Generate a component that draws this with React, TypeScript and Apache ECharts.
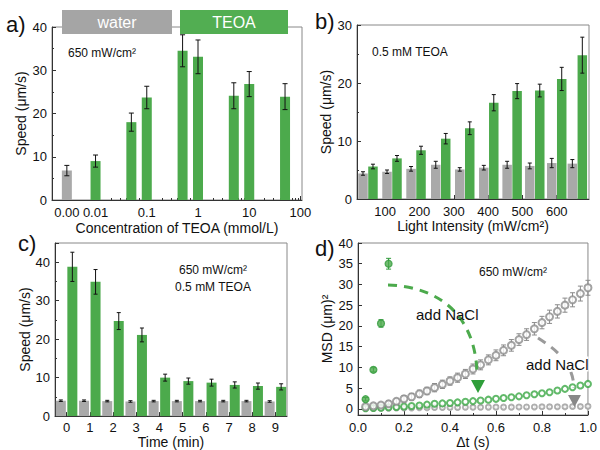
import React, { useEffect, useRef } from 'react';
import * as echarts from 'echarts';

const FONT = '"Liberation Sans", Arial, Helvetica, sans-serif';
const GREEN = '#4caa4c';
const DGREEN = '#2f9a3a';
const GREY = '#a9a9a9';
const DGREY = '#8c8c8c';
const AXC = '#333';

// ---- panel a ----
const aConcentration = [0, 0.01, 0.05, 0.1, 0.5, 1, 5, 10, 50];
const aSpeed = [6.8, 9.0, 18.0, 23.7, 34.5, 33.1, 24.1, 26.8, 23.9];
const aError = [1.2, 1.4, 2.1, 2.6, 3.7, 3.9, 3.0, 2.9, 3.0];
const aTickLabels = ['0.00', '0.01', '0.1', '1', '10', '100'];
const aTickConc = [0, 0.01, 0.1, 1, 10, 100];

// ---- panel b ----
const bIntensity = [50, 120, 190, 262, 332, 402, 470, 536, 600, 660];
const bWaterSpeed = [4.4, 4.7, 5.2, 5.9, 5.1, 5.4, 5.9, 5.7, 6.2, 6.1];
const bWaterError = [0.3, 0.3, 0.4, 0.6, 0.3, 0.4, 0.6, 0.5, 0.8, 0.7];
const bTeoaSpeed = [5.6, 7.0, 8.4, 10.4, 12.2, 16.6, 18.6, 18.7, 20.7, 24.8];
const bTeoaError = [0.4, 0.5, 0.7, 0.9, 1.1, 1.4, 1.3, 1.1, 2.0, 3.1];
const bTickLabels = [100, 200, 300, 400, 500, 600];

// ---- panel c ----
const cTime = ['0', '1', '2', '3', '4', '5', '6', '7', '8', '9'];
const cWaterSpeed = [4.0, 4.0, 3.9, 3.8, 3.9, 3.9, 3.9, 3.9, 3.9, 3.8];
const cWaterError = [0.2, 0.2, 0.2, 0.2, 0.2, 0.2, 0.2, 0.2, 0.2, 0.2];
const cTeoaSpeed = [38.8, 34.9, 24.7, 21.1, 10.0, 9.1, 8.7, 8.1, 7.8, 7.6];
const cTeoaError = [3.8, 3.2, 2.2, 1.8, 0.9, 0.8, 0.9, 0.8, 0.8, 0.8];

// ---- panel d ----
const dLag = [0.033, 0.067, 0.1, 0.133, 0.167, 0.2, 0.233, 0.267, 0.3, 0.333, 0.367, 0.4, 0.433, 0.467, 0.5,
  0.533, 0.567, 0.6, 0.633, 0.667, 0.7, 0.733, 0.767, 0.8, 0.833, 0.867, 0.9, 0.933, 0.967, 1.0];
const dTeoaMsd = [2.3, 9.4, 20.6, 35.0];
const dTeoaErr = [0.4, 0.5, 0.9, 1.3];
const dWaterMsd = [0.5, 0.7, 0.9, 1.2, 1.8, 2.4, 2.9, 3.6, 4.3, 5.1, 5.9, 6.7, 7.5, 8.4, 9.6,
  10.6, 11.8, 12.9, 14.1, 15.3, 16.7, 17.9, 19.3, 20.8, 22.2, 23.5, 25.0, 26.3, 27.8, 29.2];
const dWaterErr = [0.5, 0.6, 0.6, 0.7, 0.7, 0.8, 0.8, 0.9, 0.9, 1.0, 1.0, 1.0, 1.1, 1.1, 1.2,
  1.2, 1.2, 1.3, 1.3, 1.4, 1.4, 1.4, 1.5, 1.5, 1.6, 1.6, 1.7, 1.7, 1.8, 1.8];
const dTeoaNaclMsd = [0.15, 0.2, 0.25, 0.35, 0.45, 0.55, 0.65, 0.8, 1.0, 1.2, 1.3, 1.4, 1.55, 1.7, 1.85,
  2.0, 2.2, 2.4, 2.6, 2.8, 3.0, 3.25, 3.5, 3.75, 4.0, 4.4, 4.8, 5.2, 5.6, 6.0];
const dWaterNaclMsd = [0.1, 0.1, 0.15, 0.15, 0.2, 0.2, 0.2, 0.25, 0.25, 0.3, 0.3, 0.3, 0.3, 0.35, 0.35,
  0.35, 0.4, 0.4, 0.4, 0.4, 0.45, 0.45, 0.45, 0.5, 0.5, 0.5, 0.5, 0.55, 0.55, 0.6];
const dWaterNaclErr = [0.4, 0.4, 0.4, 0.4, 0.4, 0.4, 0.4, 0.4, 0.4, 0.4, 0.4, 0.4, 0.4, 0.4, 0.4,
  0.4, 0.4, 0.4, 0.4, 0.4, 0.4, 0.4, 0.4, 0.4, 0.4, 0.4, 0.4, 0.4, 0.4, 0.4];
const dYLabels = [0, 5, 10, 15, 20, 25, 30, 35, 40];

// broken log axis: position of "0.00"
const ZERO_POS = -2.56;
const A_MIN = -2.85;
const A_MAX = 2.03;
const A_LEFT = 52;
const A_WIDTH = 250;
const concPos = (c: number) => (c === 0 ? ZERO_POS : Math.log10(c));
// pixel of the last decade label (drawn as graphic since the axis drops it)
const aLastX = A_LEFT + ((concPos(100) - A_MIN) / (A_MAX - A_MIN)) * A_WIDTH;

function errRender(offset: number, cap: number, color: string) {
  return (params: any, api: any) => {
    const x = api.value(0);
    const y = api.value(1);
    const e = api.value(2);
    const p1 = api.coord([x, y + e]);
    const p2 = api.coord([x, y - e]);
    const cx = p1[0] + offset;
    const s = { stroke: color, lineWidth: 1 };
    return {
      type: 'group',
      children: [
        { type: 'line', shape: { x1: cx, y1: p1[1], x2: cx, y2: p2[1] }, style: s },
        { type: 'line', shape: { x1: cx - cap, y1: p1[1], x2: cx + cap, y2: p1[1] }, style: s },
        { type: 'line', shape: { x1: cx - cap, y1: p2[1], x2: cx + cap, y2: p2[1] }, style: s },
      ],
    };
  };
}

const axisBase = (extra: any = {}) => ({
  axisLine: { show: true, onZero: false, lineStyle: { color: AXC, width: 1 } },
  axisTick: { show: true, inside: true, length: 4, lineStyle: { color: AXC } },
  axisLabel: { color: '#111', fontSize: 13, margin: 5, fontFamily: FONT },
  splitLine: { show: false },
  nameLocation: 'middle',
  nameTextStyle: { color: '#111', fontSize: 14, fontFamily: FONT },
  ...extra,
});

const gridBase = { show: true, borderColor: '#888', borderWidth: 1, backgroundColor: 'transparent' };

const B_W = 9.5;
const B_OFF = (B_W * 1.05) / 2;
const C_W = 10;
const C_OFF = (C_W * 1.15) / 2;

const aMinor: number[] = [];
[0.01, 0.1, 1, 10].forEach((dec) => {
  for (let m = 2; m <= 9; m++) aMinor.push(Math.log10(dec * m));
});

const text = (x: number, y: number, t: string, size: number, extra: any = {}) => ({
  type: 'text',
  x,
  y,
  z: 100,
  style: {
    text: t,
    font: `${size}px ${FONT}`,
    fill: '#111',
    textAlign: 'left',
    textVerticalAlign: 'middle',
    ...extra,
  },
});

const aLabel = (v: number) => {
  const i = aTickConc.findIndex((c) => Math.abs(concPos(c) - v) < 1e-6);
  return i >= 0 ? aTickLabels[i] : '';
};

const option: any = {
  animation: false,
  textStyle: { fontFamily: FONT },
  grid: [
    { ...gridBase, left: A_LEFT, top: 27, width: A_WIDTH, height: 173 },
    { ...gridBase, left: 357, top: 25, width: 232, height: 174 },
    { ...gridBase, left: 55, top: 243, width: 232, height: 174 },
    { ...gridBase, left: 358, top: 243, width: 235, height: 172 },
  ],
  xAxis: [
    axisBase({
      type: 'value', gridIndex: 0, min: A_MIN, max: A_MAX, position: 'bottom',
      name: 'Concentration of TEOA (mmol/L)', nameGap: 21,
      axisLabel: {
        color: '#111', fontSize: 13, margin: 6, fontFamily: FONT,
        showMinLabel: true,
        customValues: aTickConc.slice(0, -1).map(concPos),
        formatter: aLabel,
      },
      axisTick: { show: true, inside: true, length: 4, lineStyle: { color: AXC }, customValues: aTickConc.map(concPos) },
    }),
    {
      type: 'value', gridIndex: 0, min: A_MIN, max: A_MAX, position: 'bottom',
      axisLine: { show: false }, axisLabel: { show: false }, splitLine: { show: false },
      axisTick: { show: true, inside: true, length: 2, lineStyle: { color: AXC }, customValues: aMinor },
    },
    axisBase({
      type: 'value', gridIndex: 1, min: 18, max: 694,
      name: 'Light Intensity (mW/cm²)', nameGap: 19,
      axisLabel: { color: '#111', fontSize: 13, margin: 6, fontFamily: FONT, customValues: bTickLabels },
      axisTick: { show: true, inside: true, length: 4, lineStyle: { color: AXC }, customValues: bTickLabels },
    }),
    axisBase({
      type: 'category', gridIndex: 2, data: cTime,
      name: 'Time (min)', nameGap: 16,
      axisTick: { show: true, inside: true, length: 4, alignWithLabel: true, lineStyle: { color: AXC } },
    }),
    axisBase({
      type: 'value', gridIndex: 3, min: 0, max: 1, interval: 0.2,
      name: 'Δt (s)', nameGap: 16,
      axisLabel: { color: '#111', fontSize: 13, margin: 6, fontFamily: FONT, formatter: (v: number) => v.toFixed(1) },
      minorTick: { show: true, splitNumber: 2, length: 2, lineStyle: { color: AXC } },
    }),
  ],
  yAxis: [
    axisBase({
      type: 'value', gridIndex: 0, min: 0, max: 40, interval: 10,
      name: 'Speed (μm/s)', nameGap: 24,
      minorTick: { show: true, splitNumber: 2, length: 2, lineStyle: { color: AXC } },
    }),
    axisBase({
      type: 'value', gridIndex: 1, min: 0, max: 30, interval: 10,
      name: 'Speed (μm/s)', nameGap: 24,
      minorTick: { show: true, splitNumber: 2, length: 2, lineStyle: { color: AXC } },
    }),
    axisBase({
      type: 'value', gridIndex: 2, min: 0, max: 45, interval: 10,
      name: 'Speed (μm/s)', nameGap: 20,
      axisLabel: { color: '#111', fontSize: 13, margin: 5, fontFamily: FONT, showMaxLabel: false },
      minorTick: { show: true, splitNumber: 2, length: 2, lineStyle: { color: AXC } },
    }),
    axisBase({
      type: 'value', gridIndex: 3, min: -1.5, max: 40,
      name: 'MSD (μm)²', nameGap: 24,
      axisLabel: { color: '#111', fontSize: 13, margin: 5, fontFamily: FONT, customValues: dYLabels },
      axisTick: { show: true, inside: true, length: 4, lineStyle: { color: AXC }, customValues: dYLabels },
    }),
  ],
  series: [
    // panel a
    {
      type: 'bar', xAxisIndex: 0, yAxisIndex: 0, barWidth: 10,
      data: aConcentration.map((c, i) => ({
        value: [concPos(c), aSpeed[i]],
        itemStyle: { color: c === 0 ? GREY : GREEN },
      })),
    },
    {
      type: 'custom', xAxisIndex: 0, yAxisIndex: 0, z: 5,
      renderItem: errRender(0, 2.5, '#111'),
      data: aConcentration.map((c, i) => [concPos(c), aSpeed[i], aError[i]]),
    },
    // panel b
    {
      type: 'bar', xAxisIndex: 2, yAxisIndex: 1, barWidth: B_W, barGap: '5%',
      itemStyle: { color: GREY },
      data: bIntensity.map((x, i) => [x, bWaterSpeed[i]]),
    },
    {
      type: 'bar', xAxisIndex: 2, yAxisIndex: 1, barWidth: B_W, barGap: '5%',
      itemStyle: { color: GREEN },
      data: bIntensity.map((x, i) => [x, bTeoaSpeed[i]]),
    },
    {
      type: 'custom', xAxisIndex: 2, yAxisIndex: 1, z: 5,
      renderItem: errRender(-B_OFF, 2, '#111'),
      data: bIntensity.map((x, i) => [x, bWaterSpeed[i], bWaterError[i]]),
    },
    {
      type: 'custom', xAxisIndex: 2, yAxisIndex: 1, z: 5,
      renderItem: errRender(B_OFF, 2, '#111'),
      data: bIntensity.map((x, i) => [x, bTeoaSpeed[i], bTeoaError[i]]),
    },
    // panel c
    {
      type: 'bar', xAxisIndex: 3, yAxisIndex: 2, barWidth: C_W, barGap: '15%',
      itemStyle: { color: GREY }, data: cWaterSpeed,
    },
    {
      type: 'bar', xAxisIndex: 3, yAxisIndex: 2, barWidth: C_W, barGap: '15%',
      itemStyle: { color: GREEN }, data: cTeoaSpeed,
    },
    {
      type: 'custom', xAxisIndex: 3, yAxisIndex: 2, z: 5,
      renderItem: errRender(-C_OFF, 2, '#111'),
      data: cWaterSpeed.map((v, i) => [i, v, cWaterError[i]]),
    },
    {
      type: 'custom', xAxisIndex: 3, yAxisIndex: 2, z: 5,
      renderItem: errRender(C_OFF, 2, '#111'),
      data: cTeoaSpeed.map((v, i) => [i, v, cTeoaError[i]]),
    },
    // panel d
    {
      type: 'custom', xAxisIndex: 4, yAxisIndex: 3, z: 2,
      renderItem: errRender(0, 2.5, '#9a9a9a'),
      data: dLag.map((t, i) => [t, dWaterNaclMsd[i], dWaterNaclErr[i]]),
    },
    {
      type: 'scatter', xAxisIndex: 4, yAxisIndex: 3, z: 3,
      symbol: 'emptyCircle', symbolSize: 5,
      itemStyle: { color: '#a0a0a0', borderWidth: 1.2 },
      data: dLag.map((t, i) => [t, dWaterNaclMsd[i]]),
    },
    {
      type: 'scatter', xAxisIndex: 4, yAxisIndex: 3, z: 4,
      symbol: 'emptyCircle', symbolSize: 6,
      itemStyle: { color: '#3aa843', borderWidth: 1.4 },
      data: dLag.map((t, i) => [t, dTeoaNaclMsd[i]]),
    },
    {
      type: 'custom', xAxisIndex: 4, yAxisIndex: 3, z: 5,
      renderItem: errRender(0, 2.5, '#8a8a8a'),
      data: dLag.map((t, i) => [t, dWaterMsd[i], dWaterErr[i]]),
    },
    {
      type: 'scatter', xAxisIndex: 4, yAxisIndex: 3, z: 6,
      symbol: 'emptyCircle', symbolSize: 7,
      itemStyle: { color: DGREY, borderWidth: 1.5 },
      data: dLag.map((t, i) => [t, dWaterMsd[i]]),
    },
    {
      type: 'custom', xAxisIndex: 4, yAxisIndex: 3, z: 7,
      renderItem: errRender(0, 2.5, DGREEN),
      data: dTeoaMsd.map((v, i) => [dLag[i], v, dTeoaErr[i]]),
    },
    {
      type: 'scatter', xAxisIndex: 4, yAxisIndex: 3, z: 8,
      symbol: 'circle', symbolSize: 7,
      itemStyle: { color: GREEN, borderColor: DGREEN, borderWidth: 1.2 },
      data: dTeoaMsd.map((v, i) => [dLag[i], v]),
    },
  ],
  graphic: [
    // panel letters
    text(6, 24, 'a)', 22),
    text(315, 21, 'b)', 22),
    text(18, 243, 'c)', 22),
    text(315, 248, 'd)', 22),
    // last tick label of the log axis in panel a
    {
      type: 'text', zlevel: 5, z: 200, left: aLastX - 11, top: 206,
      style: { text: aTickLabels[aTickLabels.length - 1], font: `13px ${FONT}`, fill: '#111' },
    },
    // header boxes
    { type: 'rect', z: 90, shape: { x: 62, y: 10, width: 110, height: 24 }, style: { fill: '#a5a5a5' } },
    { type: 'rect', z: 90, shape: { x: 180, y: 10, width: 108, height: 24 }, style: { fill: '#52ae52' } },
    text(117, 22, 'water', 16, { fill: '#fff', textAlign: 'center' }),
    text(234, 22, 'TEOA', 16, { fill: '#fff', textAlign: 'center' }),
    // annotations
    text(68, 53, '650 mW/cm²', 12),
    text(372, 52, '0.5 mM TEOA', 12),
    text(213, 270, '650 mW/cm²', 12, { textAlign: 'center' }),
    text(213, 287, '0.5 mM TEOA', 12, { textAlign: 'center' }),
    text(513, 272, '650 mW/cm²', 12, { textAlign: 'center' }),
    {
      type: 'bezierCurve', z: 95,
      shape: { x1: 388, y1: 285, cpx1: 446, cpy1: 287, cpx2: 476, cpy2: 322, x2: 477, y2: 374 },
      style: { stroke: GREEN, lineWidth: 3, lineDash: [9, 7], fill: 'none' },
    },
    { type: 'polygon', z: 95, shape: { points: [[471, 380], [485, 380], [478, 393]] }, style: { fill: '#2f9e3a' } },
    {
      type: 'bezierCurve', z: 95,
      shape: { x1: 538, y1: 338, cpx1: 560, cpy1: 352, cpx2: 573, cpy2: 365, x2: 574, y2: 388 },
      style: { stroke: '#9a9a9a', lineWidth: 3, lineDash: [9, 7], fill: 'none' },
    },
    { type: 'polygon', z: 95, shape: { points: [[568, 395], [581, 395], [574.5, 407]] }, style: { fill: '#888' } },
    text(416, 314, 'add NaCl', 15),
    text(526, 364, 'add NaCl', 15, { backgroundColor: '#fff' }),
  ],
};

export default function App() {
  const ref = useRef<HTMLDivElement>(null);
  useEffect(() => {
    document.body.style.margin = '0';
    const chart = echarts.init(ref.current!, null, { renderer: 'svg' });
    chart.setOption(option);
    return () => chart.dispose();
  }, []);
  return <div ref={ref} style={{ width: 600, height: 450, position: 'fixed', left: 0, top: 0, background: '#fff' }} />;
}
